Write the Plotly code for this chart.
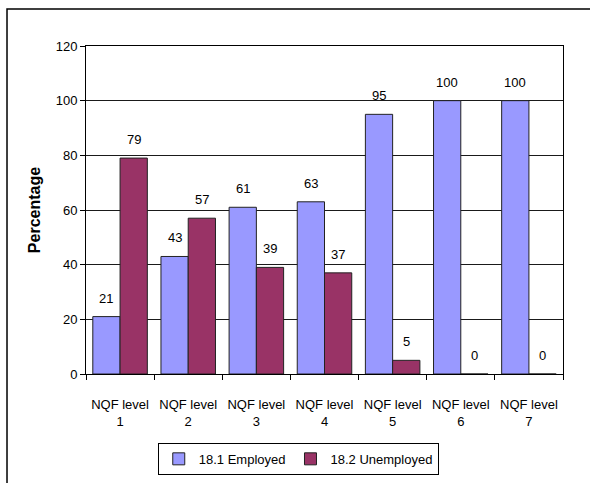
import plotly.graph_objects as go

categories = ["NQF level<br>1", "NQF level<br>2", "NQF level<br>3", "NQF level<br>4",
              "NQF level<br>5", "NQF level<br>6", "NQF level<br>7"]
employed = [21, 43, 61, 63, 95, 100, 100]
unemployed = [79, 57, 39, 37, 5, 0, 0]
y_ticks = [0, 20, 40, 60, 80, 100, 120]

FAMILY = "Arial, Liberation Sans, sans-serif"
font = dict(family=FAMILY, size=13, color="black")

fig = go.Figure()
fig.add_trace(go.Bar(
    x=categories, y=employed, name="18.1 Employed",
    marker=dict(color="#9999FF", line=dict(color="#222222", width=1)),
))
fig.add_trace(go.Bar(
    x=categories, y=unemployed, name="18.2 Unemployed",
    marker=dict(color="#993366", line=dict(color="#222222", width=1)),
))

# value labels above each bar, shifted left/right to sit over its bar in the group
BAR_SHIFT = 13.6
annotations = []
for series, shift in ((employed, -BAR_SHIFT), (unemployed, BAR_SHIFT)):
    for cat, val in zip(categories, series):
        annotations.append(dict(
            x=cat, y=val, xref="x", yref="y", text=str(val),
            showarrow=False, xshift=shift, yshift=9, yanchor="bottom",
            font=font,
        ))

fig.update_layout(
    width=590, height=483,
    margin=dict(l=86, r=27, t=46, b=109, autoexpand=False),
    paper_bgcolor="white", plot_bgcolor="white",
    font=font,
    barmode="group", bargap=0.2, bargroupgap=0,
    showlegend=True,
    legend=dict(
        orientation="h", x=0.445, xanchor="center", y=-0.21, yanchor="top",
        bordercolor="black", borderwidth=1, font=font,
        itemwidth=30, tracegroupgap=0,
    ),
    annotations=annotations,
    xaxis=dict(
        type="category", tickson="boundaries", ticks="outside", ticklen=5,
        tickcolor="black", showline=True, linecolor="black", linewidth=1,
        mirror=True, tickfont=font, tickangle=0, ticklabelstandoff=18,
        automargin=False,
    ),
    yaxis=dict(
        range=[0, 120], tickvals=y_ticks, ticks="outside", ticklen=5,
        tickcolor="black", showgrid=True, gridcolor="#1a1a1a", gridwidth=1,
        showline=True, linecolor="black", linewidth=1, mirror=True,
        zeroline=False, tickfont=font, automargin=False,
        title=dict(text="<b>Percentage</b>", font=dict(family=FAMILY, size=16, color="black"),
                   standoff=11),
    ),
    shapes=[dict(
        type="rect", xref="paper", yref="paper",
        x0=-0.1656, x1=1.2, y0=-0.5, y1=1.1128,
        line=dict(color="black", width=1.5), fillcolor="rgba(0,0,0,0)",
        layer="below",
    )],
)

fig.write_html("out.html")
